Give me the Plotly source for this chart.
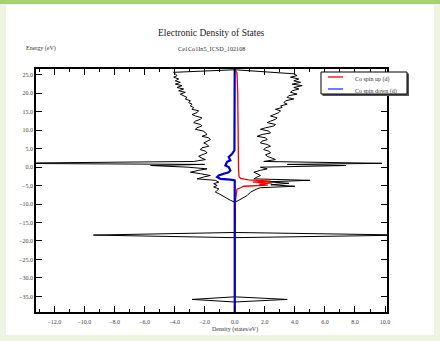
import plotly.graph_objects as go

# ---- data (energy in eV, density in states/eV) ----
tot_up_E = [26.3, 25.2, 24.7, 24.3, 23.8, 23.3, 22.9, 22.4, 22.0, 21.5, 21.1, 20.6, 20.2, 19.7, 19.3,
            18.8, 18.4, 17.9, 17.4, 17.0, 16.5, 16.1, 15.6, 15.2, 14.7, 14.2, 13.8, 13.3, 12.9, 12.4,
            12.0, 11.5, 11.1, 10.6, 10.2, 9.7, 9.2, 8.8, 8.3, 7.9, 7.4, 7.0, 6.5, 6.1, 5.6, 5.2, 4.7,
            4.3, 3.8, 3.3, 2.9, 2.4, 2.0, 1.5, 1.0, 0.7, 0.4, -0.05, -0.5, -0.9, -1.4, -1.8, -2.3,
            -2.7, -3.2, -3.6, -4.0, -4.4, -4.8, -5.2, -5.6, -5.9, -6.8, -7.7, -8.6, -9.0, -9.5,
            -17.7, -18.4, -19.1, -35.1, -35.8, -36.5, -39.2]
tot_up = [0.0, 3.93, 4.15, 3.71, 4.27, 3.93, 4.38, 3.82, 4.49, 3.93, 4.27, 3.82, 3.71, 4.15, 3.6,
          3.49, 3.93, 3.38, 3.27, 3.49, 3.05, 3.16, 2.71, 3.05, 2.93, 2.6, 2.38, 2.82, 2.71, 2.38,
          2.16, 2.71, 2.6, 2.05, 1.71, 2.27, 2.38, 1.82, 1.49, 2.05, 2.16, 1.82, 1.71, 2.16, 2.38,
          2.05, 1.93, 2.27, 2.38, 2.05, 2.16, 2.49, 2.71, 1.93, 9.8, 3.5, 7.4, 1.71, 2.16, 1.71,
          1.27, 1.49, 1.71, 1.49, 1.27, 5.0, 2.2, 3.6, 2.4, 4.0, 1.7, 1.49, 1.05, 0.83, 0.49, 0.27,
          0.0, 0.0, 11.5, 0.0, 0.0, 3.49, 0.0, 0.0]

tot_dn_E = [26.3, 25.6, 25.2, 24.7, 24.3, 23.8, 23.3, 22.9, 22.4, 22.0, 21.5, 21.1, 20.6, 20.2,
            19.7, 19.3, 18.8, 18.4, 17.9, 17.4, 17.0, 16.5, 16.1, 15.6, 15.2, 14.7, 14.2, 13.8,
            13.3, 12.9, 12.4, 12.0, 11.5, 11.1, 10.6, 10.2, 9.7, 9.2, 8.8, 8.3, 7.9, 7.4, 7.0, 6.5,
            6.1, 5.6, 5.2, 4.7, 4.3, 3.8, 3.3, 2.9, 2.4, 2.0, 1.5, 1.0, 0.7, 0.4, -0.05, -0.5,
            -0.9, -1.4, -1.8, -2.3, -2.7, -3.2, -3.6, -4.1, -4.5, -5.0, -5.4, -5.9, -6.3, -6.8,
            -7.2, -7.7, -8.1, -8.6, -9.0, -9.5, -17.7, -18.4, -19.1, -35.1, -35.8, -36.5, -39.2]
tot_dn = [0.0, -4.07, -3.95, -3.84, -4.06, -3.73, -3.95, -3.62, -3.95, -3.51, -3.84, -3.4, -3.73,
          -3.29, -3.62, -3.4, -3.17, -3.29, -2.95, -3.06, -2.84, -2.95, -2.73, -2.84, -2.4, -2.51,
          -2.84, -2.62, -2.18, -2.29, -2.62, -2.73, -2.29, -2.18, -2.51, -2.62, -2.06, -1.95,
          -1.84, -2.18, -1.73, -1.62, -1.84, -2.06, -1.84, -1.73, -2.18, -2.29, -1.95, -1.84,
          -2.18, -2.4, -2.18, -1.95, -2.73, -16.0, -2.0, -5.6, -3.1, -1.84, -2.4, -2.95, -2.29,
          -1.62, -2.06, -2.51, -1.29, -1.06, -1.4, -1.17, -1.4, -1.06, -1.17, -1.29, -1.06,
          -0.84, -0.73, -0.51, -0.29, 0.0, 0.0, -9.4, 0.0, 0.0, -2.84, 0.0, 0.0]

co_up_E = [26.3, 25.5, 20.0, 10.0, 0.0, -2.3, -2.7, -3.1, -3.5, -3.8, -4.1, -4.3, -4.6, -4.9,
           -5.2, -5.6, -6.0, -9.0, -20.0, -39.2]
co_up = [0.0, 0.15, 0.2, 0.2, 0.25, 0.28, 0.3, 0.4, 0.9, 2.4, 1.2, 2.5, 1.6, 2.2, 0.6, 0.4,
         0.15, 0.05, 0.0, 0.0]

co_dn_E = [28.0, 10.0, 4.5, 3.6, 2.7, 1.8, 1.4, 0.4, 0.0, -0.9, -1.4, -1.8, -2.3, -2.7, -3.2,
           -3.4, -3.6, -20.0, -39.2]
co_dn = [0.0, -0.01, -0.02, -0.17, -0.4, -0.29, -0.51, -0.62, -0.4, -0.29, -0.4, -0.73, -1.06,
         -1.17, -0.95, -0.29, 0.0, 0.0, 0.0]

x_ticks = [-12, -10, -8, -6, -4, -2, 0, 2, 4, 6, 8, 10]
y_ticks = [-35, -30, -25, -20, -15, -10, -5, 0, 5, 10, 15, 20, 25]
legend_names = ["Co spin up (d)", "Co spin down (d)"]
RED, BLUE = "#ee0000", "#0000cc"

FONT = "Liberation Serif"

fig = go.Figure()
fig.add_trace(go.Scatter(x=tot_up, y=tot_up_E, mode="lines", line=dict(color="black", width=1),
                         showlegend=False, hoverinfo="skip"))
fig.add_trace(go.Scatter(x=tot_dn, y=tot_dn_E, mode="lines", line=dict(color="black", width=1),
                         showlegend=False, hoverinfo="skip"))
fig.add_trace(go.Scatter(x=co_up, y=co_up_E, mode="lines", name=legend_names[0],
                         line=dict(color=RED, width=1.3), showlegend=False))
fig.add_trace(go.Scatter(x=co_dn, y=co_dn_E, mode="lines", name=legend_names[1],
                         line=dict(color=BLUE, width=2.2), showlegend=False))

L, R, T, B = 36, 53, 69, 29
W, H = 440, 341
pw, ph = W - L - R, H - T - B

def px(xp):
    return (xp - L) / pw

def py(yp):
    return (H - B - yp) / ph

shapes = [
    dict(type="rect", xref="paper", yref="paper", x0=px(6), x1=px(434), y0=py(335), y1=py(5),
         fillcolor="white", line=dict(width=0), layer="below"),
    dict(type="rect", xref="paper", yref="paper", x0=px(0), x1=px(440), y0=py(4), y1=py(0),
         fillcolor="#a6d36b", line=dict(width=0), layer="below"),
    # legend box (shadow + frame) and line samples
    dict(type="rect", xref="paper", yref="paper", x0=px(322.5), x1=px(409), y0=py(96), y1=py(73.5),
         fillcolor="#555555", line=dict(width=0), layer="above"),
    dict(type="rect", xref="paper", yref="paper", x0=px(321), x1=px(407), y0=py(94), y1=py(72),
         fillcolor="white", line=dict(color="black", width=1), layer="above"),
    dict(type="line", xref="paper", yref="paper", x0=px(328), x1=px(343), y0=py(77), y1=py(77),
         line=dict(color=RED, width=1.3), layer="above"),
    dict(type="line", xref="paper", yref="paper", x0=px(328), x1=px(343), y0=py(89), y1=py(89),
         line=dict(color="#5555ff", width=1.6), layer="above"),
]

annotations = [
    dict(text="Electronic Density of States", xref="paper", yref="paper", x=0.5, y=py(33),
         xanchor="center", yanchor="middle", showarrow=False,
         font=dict(family=FONT, size=9.5, color="#222")),
    dict(text="Ce1Co1In5_ICSD_102108", xref="paper", yref="paper", x=0.5, y=py(48),
         xanchor="center", yanchor="middle", showarrow=False,
         font=dict(family=FONT, size=6.2, color="#333")),
    dict(text="Energy (eV)", xref="paper", yref="paper", x=px(41), y=py(49),
         xanchor="center", yanchor="middle", showarrow=False,
         font=dict(family=FONT, size=6, color="#333")),
    dict(text="Density (states/eV)", xref="paper", yref="paper", x=px(235), y=py(329),
         xanchor="center", yanchor="middle", showarrow=False,
         font=dict(family=FONT, size=6, color="#333")),
    dict(text=legend_names[0], xref="paper", yref="paper", x=px(352.5), y=py(79.5),
         xanchor="left", yanchor="middle", showarrow=False,
         font=dict(family=FONT, size=6, color="#333")),
    dict(text=legend_names[1], xref="paper", yref="paper", x=px(352.5), y=py(91.5),
         xanchor="left", yanchor="middle", showarrow=False,
         font=dict(family=FONT, size=6, color="#333")),
]

fig.update_layout(
    width=W, height=H,
    margin=dict(l=L, r=R, t=T, b=B, pad=0),
    paper_bgcolor="#edf5e0",
    plot_bgcolor="white",
    font=dict(family=FONT, size=6, color="#333"),
    showlegend=False,
    xaxis=dict(range=[-13.22, 10.13], tickvals=x_ticks, tickformat=".1f",
               ticks="inside", ticklen=6, tickwidth=1, tickcolor="black",
               minor=dict(ticks="inside", ticklen=3, dtick=1, tick0=0, tickcolor="black"),
               showline=True, linecolor="black", linewidth=1.6, mirror="ticks",
               showgrid=False, zeroline=False, tickfont=dict(size=6, color="#444"),
               ticklabelstandoff=3, automargin=False),
    yaxis=dict(range=[-39.2, 26.5], tickvals=y_ticks, tickformat=".1f",
               ticks="inside", ticklen=6, tickwidth=1, tickcolor="black",
               showline=True, linecolor="black", linewidth=1.6, mirror="ticks",
               showgrid=False, zeroline=False, tickfont=dict(size=6, color="#444"),
               automargin=False),
    shapes=shapes,
    annotations=annotations,
)

fig.write_html("out.html",
               config={"displayModeBar": False},
               post_script="document.body.style.margin='0px';document.body.style.padding='0px';"
                           "document.body.style.overflow='hidden';")
